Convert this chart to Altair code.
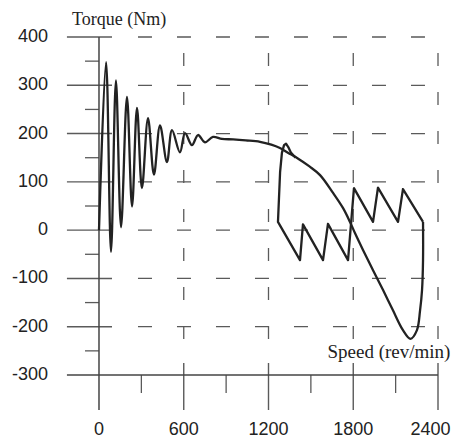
import altair as alt
import pandas as pd

# ---- data ----
# oscillating start-up + steady torque/speed curve + overshoot
main_speed = [0, 50, 85, 120, 156, 198, 234, 269, 304, 347, 389, 432, 481, 517, 573,
              609, 658, 701, 750, 807, 870, 950, 1040, 1140, 1220, 1281, 1340, 1405,
              1490, 1565, 1657, 1727, 1777, 1812, 1869, 1940, 2011, 2081, 2152, 2205,
              2251, 2273, 2287, 2294, 2294]
main_torque = [0, 348, -45, 310, 6, 276, 49, 253, 87, 232, 115, 217, 141, 207, 161,
               201, 176, 197, 182, 193, 189, 188, 186, 183, 177, 170, 160, 149,
               132, 114, 77, 46, 17, -6, -41, -83, -124, -166, -207, -225,
               -207, -166, -124, -62, 17]

# sawtooth return path
saw_speed = [2294, 2152, 2117, 1975, 1940, 1805, 1763, 1621, 1586, 1444, 1423, 1267,
             1282, 1295, 1310, 1324, 1340, 1360, 1392]
saw_torque = [17, 85, 17, 88, 17, 87, -62, 13, -62, 12, -62, 17,
              120, 160, 176, 179, 172, 160, 150]

y_ticks = [400, 300, 200, 100, 0, -100, -200, -300]
y_tick_labels = ["400", "300", "200", "100", "0", "-100", "-200", "-300"]
y_minor = [350, 250, 150, 50, -50, -150, -250]
x_ticks = [0, 600, 1200, 1800, 2400]
x_tick_labels = ["0", "600", "1200", "1800", "2400"]
x_minor = [300, 900, 1500, 2100]

y_title = "Torque (Nm)"
x_title = "Speed (rev/min)"

# ---- scales ----
XMAX = 2492.0
xs = alt.Scale(domain=[-644.2, XMAX], nice=False, zero=False)
ys = alt.Scale(domain=[-434.6, 460.06], nice=False, zero=False)

GRID = "#5a5a5a"
INK = "#222222"
NUMFONT = "Liberation Sans"


def X(f="x"):
    return alt.X(f"{f}:Q", scale=xs, axis=None)


def Y(f="y"):
    return alt.Y(f"{f}:Q", scale=ys, axis=None)


# solid left segments of each horizontal grid row
seg_df = pd.DataFrame({"y": y_ticks[:-1], "x": -227, "x2": 92})
segs = alt.Chart(seg_df).mark_rule(color=GRID, strokeWidth=1.4).encode(
    x=X(), x2="x2", y=Y())

# dashed horizontal rows
hd_df = pd.DataFrame({"y": y_ticks[:-1], "x": 276, "x2": 2308})
hdash = alt.Chart(hd_df).mark_rule(color=GRID, strokeWidth=1.3, strokeDash=[14, 25]).encode(
    x=X(), x2="x2", y=Y())

# minor y ticks
ym_df = pd.DataFrame({"y": y_minor, "x": -99, "x2": 0})
yminor = alt.Chart(ym_df).mark_rule(color=GRID, strokeWidth=1.3).encode(
    x=X(), x2="x2", y=Y())

# dashed vertical grid
vd_df = pd.DataFrame({"x": x_ticks[1:], "y": 366.9, "y2": -227.5})
vdash = alt.Chart(vd_df).mark_rule(color=GRID, strokeWidth=1.3, strokeDash=[13, 26]).encode(
    x=X(), y=Y(), y2="y2")

# major x ticks crossing the axis
xt_df = pd.DataFrame({"x": x_ticks[1:], "y": -275.1, "y2": -372.5})
xticks = alt.Chart(xt_df).mark_rule(color=GRID, strokeWidth=1.4).encode(
    x=X(), y=Y(), y2="y2")

# minor x ticks
xm_df = pd.DataFrame({"x": x_minor, "y": -300, "y2": -337.3})
xminor = alt.Chart(xm_df).mark_rule(color=GRID, strokeWidth=1.3).encode(
    x=X(), y=Y(), y2="y2")

# axes lines
ax_df = pd.DataFrame({"x": [0], "y": [400], "y2": [-372.5]})
yaxis = alt.Chart(ax_df).mark_rule(color="#444", strokeWidth=1.5).encode(
    x=X(), y=Y(), y2="y2")
bx_df = pd.DataFrame({"y": [-300], "x": [-227], "x2": [2400]})
xaxis = alt.Chart(bx_df).mark_rule(color="#444", strokeWidth=1.5).encode(
    x=X(), x2="x2", y=Y())

# curves
main_df = pd.DataFrame({"x": main_speed, "y": main_torque, "i": range(len(main_speed))})
main_line = alt.Chart(main_df).mark_line(color=INK, strokeWidth=2.3, interpolate="catmull-rom").encode(
    x=X(), y=Y(), order="i:Q")
saw_df = pd.DataFrame({"x": saw_speed, "y": saw_torque, "i": range(len(saw_speed))})
saw_line = alt.Chart(saw_df).mark_line(color=INK, strokeWidth=2.3, strokeJoin="round").encode(
    x=X(), y=Y(), order="i:Q")

# tick labels
yl_df = pd.DataFrame({"y": y_ticks, "t": y_tick_labels, "x": -361})
ylab = alt.Chart(yl_df).mark_text(align="right", baseline="middle", font=NUMFONT,
                                  fontSize=18, color=INK).encode(x=X(), y=Y(), text="t:N")
XLAB_Y = 400 - (434.5 - 37) / 0.48286  # baseline kept clear of the bottom edge
xl_df = pd.DataFrame({"x": x_ticks[:-1], "t": x_tick_labels[:-1], "y": XLAB_Y})
xlab = alt.Chart(xl_df).mark_text(align="center", baseline="alphabetic", font=NUMFONT,
                                  fontSize=18, color=INK).encode(x=X(), y=Y(), text="t:N")
xl2_df = pd.DataFrame({"x": [XMAX - 4], "t": x_tick_labels[-1:], "y": XLAB_Y})
xlab2 = alt.Chart(xl2_df).mark_text(align="right", baseline="alphabetic", font=NUMFONT,
                                    fontSize=18, color=INK).encode(x=X(), y=Y(), text="t:N")

# titles
yt_df = pd.DataFrame({"x": [-191], "y": [435.2], "t": [y_title]})
ytitle = alt.Chart(yt_df).mark_text(align="left", baseline="middle", font="Liberation Serif",
                                    fontSize=18, color=INK).encode(x=X(), y=Y(), text="t:N")
xt2_df = pd.DataFrame({"x": [XMAX - 4], "y": [-252.4], "t": [x_title]})
xtitle = alt.Chart(xt2_df).mark_text(align="right", baseline="middle", font="Liberation Serif",
                                     fontSize=19, color=INK).encode(x=X(), y=Y(), text="t:N")

chart = alt.layer(
    segs, hdash, yminor, vdash, xticks, xminor, yaxis, xaxis,
    main_line, saw_line, ylab, xlab, xlab2, ytitle, xtitle
).properties(
    width=443, height=432, padding=0,
    autosize=alt.AutoSizeParams(type="none"),
).configure_view(stroke=None)

chart.save("out.html", embed_options={"renderer": "svg", "actions": False})
